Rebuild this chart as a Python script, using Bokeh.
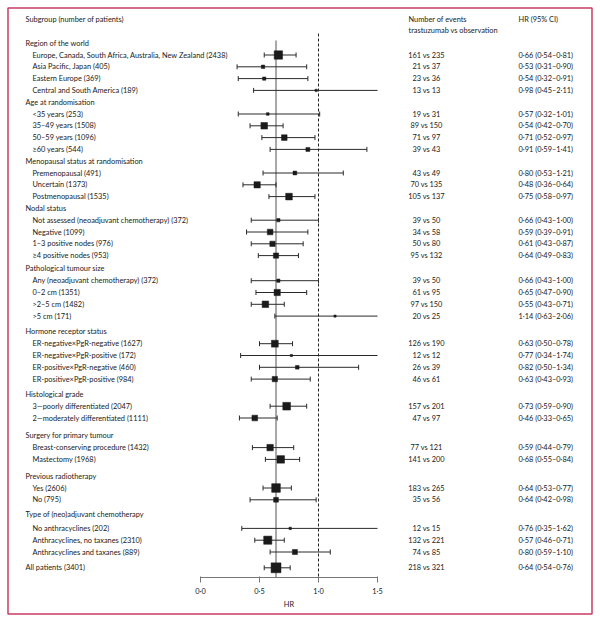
from bokeh.plotting import figure
from bokeh.models import Range1d, ColumnDataSource
from bokeh.core.properties import value
from bokeh.embed import file_html
from bokeh.resources import INLINE
import math

# ---------------- data ----------------
groups = ["Region of the world", "Age at randomisation",
          "Menopausal status at randomisation", "Nodal status",
          "Pathological tumour size", "Hormone receptor status",
          "Histological grade", "Surgery for primary tumour",
          "Previous radiotherapy", "Type of (neo)adjuvant chemotherapy"]
group_sizes = [4, 4, 3, 4, 4, 4, 2, 2, 2, 3]

subgroups = [
    "Europe, Canada, South Africa, Australia, New Zealand", "Asia Pacific, Japan",
    "Eastern Europe", "Central and South America",
    "<35 years", "35\u201349 years", "50\u201359 years", "\u226560 years",
    "Premenopausal", "Uncertain", "Postmenopausal",
    "Not assessed (neoadjuvant chemotherapy)", "Negative", "1\u20133 positive nodes",
    "\u22654 positive nodes",
    "Any (neoadjuvant chemotherapy)", "0\u20132 cm", ">2\u20135 cm", ">5 cm",
    "ER-negative\u00d7PgR-negative", "ER-negative\u00d7PgR-positive",
    "ER-positive\u00d7PgR-negative", "ER-positive\u00d7PgR-positive",
    "3\u2014poorly differentiated", "2\u2014moderately differentiated",
    "Breast-conserving procedure", "Mastectomy",
    "Yes", "No",
    "No anthracyclines", "Anthracyclines, no taxanes", "Anthracyclines and taxanes",
]
patients = [2438, 405, 369, 189, 253, 1508, 1096, 544, 491, 1373, 1535,
            372, 1099, 976, 953, 372, 1351, 1482, 171, 1627, 172, 460, 984,
            2047, 1111, 1432, 1968, 2606, 795, 202, 2310, 889]
events_trastuzumab = [161, 21, 23, 13, 19, 89, 71, 39, 43, 70, 105, 39, 34, 50, 95,
                      39, 61, 97, 20, 126, 12, 26, 46, 157, 47, 77, 141, 183, 35,
                      12, 132, 74]
events_observation = [235, 37, 36, 13, 31, 150, 97, 43, 49, 135, 137, 50, 58, 80, 132,
                      50, 95, 150, 25, 190, 12, 39, 61, 201, 97, 121, 200, 265, 56,
                      15, 221, 85]
hr = [0.66, 0.53, 0.54, 0.98, 0.57, 0.54, 0.71, 0.91, 0.80, 0.48, 0.75,
      0.66, 0.59, 0.61, 0.64, 0.66, 0.65, 0.55, 1.14, 0.63, 0.77, 0.82, 0.63,
      0.73, 0.46, 0.59, 0.68, 0.64, 0.64, 0.76, 0.57, 0.80]
ci_low = [0.54, 0.31, 0.32, 0.45, 0.32, 0.42, 0.52, 0.59, 0.53, 0.36, 0.58,
          0.43, 0.39, 0.43, 0.49, 0.43, 0.47, 0.43, 0.63, 0.50, 0.34, 0.50, 0.43,
          0.59, 0.33, 0.44, 0.55, 0.53, 0.42, 0.35, 0.46, 0.59]
ci_high = [0.81, 0.90, 0.91, 2.11, 1.01, 0.70, 0.97, 1.41, 1.21, 0.64, 0.97,
           1.00, 0.91, 0.87, 0.83, 1.00, 0.90, 0.71, 2.06, 0.78, 1.74, 1.34, 0.93,
           0.90, 0.65, 0.79, 0.84, 0.77, 0.98, 1.62, 0.71, 1.10]

overall_label = "All patients"
overall_patients = 3401
overall_events = (218, 321)
overall_hr, overall_low, overall_high = 0.64, 0.54, 0.76

x_ticks = [0.0, 0.5, 1.0, 1.5]
x_tick_labels = ["0\u00b70", "0\u00b75", "1\u00b70", "1\u00b75"]
x_axis_label = "HR"

# ---------------- layout ----------------
W, H = 594, 616
AXIS_Y = 577              # page y of the HR axis line
X_AT_0, PX_PER_HR = 200, 118
X_MIN, X_MAX = x_ticks[0], x_ticks[-1]

def hx(px):
    return (px - X_AT_0) / PX_PER_HR

FONT = value("Lato")
FS = "7.4px"
TXT = "#1a1a1a"

p = figure(width=W, height=H, output_backend="svg", toolbar_location=None,
           x_range=Range1d(hx(0), hx(W)), y_range=Range1d(H, 0),
           x_axis_location=None, y_axis_location=None,
           min_border=0, min_border_left=0, min_border_right=0,
           min_border_top=0, min_border_bottom=0)
p.grid.visible = False
p.outline_line_color = None
p.background_fill_color = "white"
p.border_fill_color = "white"

# page frame
p.quad(left=[hx(7.5)], right=[hx(591.5)], top=[7.5], bottom=[613.5],
       fill_color=None, line_color="#c83c64", line_width=1.5)

# row positions
step = 11.8
extra = {19: 1.5, 24: 4, 29: 3.5, 32: 6, 35: 5, 38: 3, 39: 2, 42: 4}
row_y = []
gap = 0.0
for i in range(sum(group_sizes) + len(groups) + 1):
    gap += extra.get(i, 0)
    row_y.append(42.7 + i * step + gap)

head_y, sub_y = [], []
k = 0
for g, n in zip(groups, group_sizes):
    head_y.append(row_y[k]); k += 1
    for _ in range(n):
        sub_y.append(row_y[k]); k += 1
all_y = row_y[k]

def fmt(v):
    return f"{v:.2f}".replace(".", "\u00b7")

# column headers
hdr = dict(text_font=FONT, text_font_size=FS, text_color=TXT, text_baseline="middle")
p.text(x=[hx(25)], y=[19], text=["Subgroup (number of patients)"], **hdr)
p.text(x=[hx(408), hx(408)], y=[19, 30],
       text=["Number of events", "trastuzumab vs observation"], **hdr)
p.text(x=[hx(518)], y=[19], text=["HR (95% CI)"], **hdr)

# group headings
p.text(x=[hx(25)] * len(groups), y=head_y, text=groups, **hdr)

# subgroup rows + overall
labels = [f"{s} ({n})" for s, n in zip(subgroups, patients)]
p.text(x=[hx(32)] * len(labels), y=sub_y, text=labels, **hdr)
p.text(x=[hx(25)], y=[all_y], text=[f"{overall_label} ({overall_patients})"], **hdr)

ev = [f"{a} vs {b}" for a, b in zip(events_trastuzumab, events_observation)]
ev.append(f"{overall_events[0]} vs {overall_events[1]}")
p.text(x=[hx(426)] * len(ev), y=sub_y + [all_y], text=ev, text_align="center", **hdr)

hrt = [f"{fmt(h)} ({fmt(l)}\u2013{fmt(u)})" for h, l, u in zip(hr, ci_low, ci_high)]
hrt.append(f"{fmt(overall_hr)} ({fmt(overall_low)}\u2013{fmt(overall_high)})")
p.text(x=[hx(518)] * len(hrt), y=sub_y + [all_y], text=hrt, **hdr)

# reference lines
p.segment(x0=[overall_hr], x1=[overall_hr], y0=[40], y1=[AXIS_Y],
          line_color="#a8a8a8", line_width=2)
p.segment(x0=[1.0], x1=[1.0], y0=[33], y1=[AXIS_Y],
          line_color="#222222", line_width=1, line_dash="3 2")

# CIs
all_hr = hr + [overall_hr]
all_lo = ci_low + [overall_low]
all_hi = ci_high + [overall_high]
all_n = patients + [overall_patients]
ys = sub_y + [all_y]
ci = ColumnDataSource(dict(x0=all_lo, x1=[min(h, X_MAX) for h in all_hi], y=ys))
p.segment(x0="x0", x1="x1", y0="y", y1="y", source=ci, line_color="#2a2a2a", line_width=1)

cap_x, cap_y0, cap_y1 = [], [], []
for lo_, hi_, y in zip(all_lo, all_hi, ys):
    cap_x.append(lo_); cap_y0.append(y - 2.5); cap_y1.append(y + 2.5)
    if hi_ <= X_MAX:
        cap_x.append(hi_); cap_y0.append(y - 2.5); cap_y1.append(y + 2.5)
p.segment(x0=cap_x, x1=cap_x, y0=cap_y0, y1=cap_y1, line_color="#2a2a2a", line_width=1)

sizes = [0.17 * math.sqrt(n) for n in all_n]
p.scatter(x=all_hr, y=ys, size=sizes, marker="square",
          fill_color="#1a1a1a", line_color="#1a1a1a", line_width=0.5)

# HR axis (drawn inside the frame)
AX_COL = "#777777"
p.segment(x0=[X_MIN], x1=[X_MAX], y0=[AXIS_Y], y1=[AXIS_Y], line_color=AX_COL, line_width=1)
p.segment(x0=x_ticks, x1=x_ticks, y0=[AXIS_Y - 1] * len(x_ticks),
          y1=[AXIS_Y + 5] * len(x_ticks), line_color=AX_COL, line_width=1)
p.text(x=x_ticks, y=[591] * len(x_ticks), text=x_tick_labels, text_align="center", **hdr)
p.text(x=[(X_MIN + X_MAX) / 2], y=[604], text=[x_axis_label], text_align="center", **hdr)

open("out.html", "w").write(file_html(p, INLINE))
